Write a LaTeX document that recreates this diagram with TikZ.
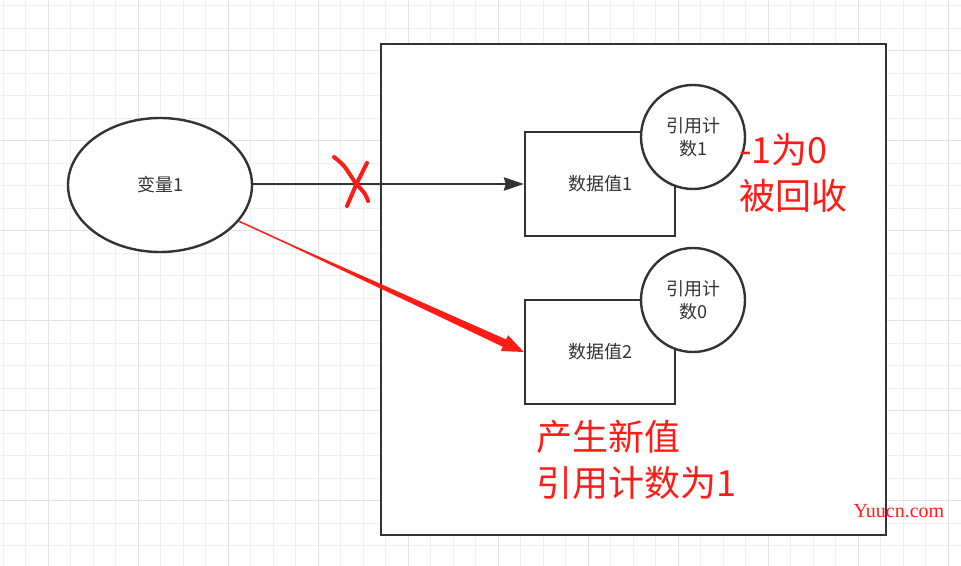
\documentclass[tikz,border=0pt]{standalone}
\usepackage{fontspec}
\setmainfont{Noto Sans CJK SC}
\newfontfamily\wmfont{Liberation Serif}
\usetikzlibrary{arrows.meta, calc, shapes.geometric}
\definecolor{linecol}{RGB}{51, 51, 51}
\definecolor{inkcol}{RGB}{255, 28, 22}
\definecolor{gridcol}{RGB}{239, 239, 239}
\definecolor{gridmaj}{RGB}{226, 226, 226}
\tikzset{
  blk/.style   = {draw=linecol, line width=1.8pt, fill=white, text=linecol,
                  align=center, inner sep=2pt,
                  font=\fontsize{13.5}{17.5}\selectfont},
  var/.style   = {blk, ellipse, minimum width=138pt, minimum height=100.5pt},
  val/.style   = {blk, rectangle, minimum width=112.5pt, minimum height=78pt},
  cnt/.style   = {blk, circle, minimum size=78pt},
  frame/.style = {draw=linecol, line width=1.8pt, fill=white,
                  minimum width=378.75pt, minimum height=368.25pt},
  link/.style  = {-{Stealth[length=15pt, width=10pt, inset=1.5pt]},
                  draw=linecol, line width=1.6pt},
  note/.style  = {text=inkcol, align=left, inner sep=0pt,
                  font=\fontsize{27}{34.5}\selectfont},
  scrawl/.style = {draw=inkcol, line width=3pt, line cap=round,
                   line join=round},
  wmark/.style = {text=inkcol, inner sep=0pt, font=\wmfont\fontsize{15}{18}\selectfont},
}

\begin{document}
\begin{tikzpicture}[x=0.75pt, y=-0.75pt]
  \useasboundingbox (0,0) rectangle (961,566);

  %% ---------------- paper grid ----------------
  \foreach \gx in {3,25.5,...,961}
    \draw[gridcol, line width=0.75pt] (\gx,0) -- (\gx,566);
  \foreach \gy in {6,28.5,...,566}
    \draw[gridcol, line width=0.75pt] (0,\gy) -- (961,\gy);
  \foreach \gx in {48,138,...,961}
    \draw[gridmaj, line width=0.75pt] (\gx,0) -- (\gx,566);
  \foreach \gy in {51,141,...,566}
    \draw[gridmaj, line width=0.75pt] (0,\gy) -- (961,\gy);

  %% ---------------- heap ----------------
  \node[frame] (heap) at (633.5,289.5) {};

  \node[val] (val1) at (600,184) {数据值1};
  \node[cnt] (cnt1) at (693,137) {引用计\\数1};
  \node[val] (val2) at (600,352) {数据值2};
  \node[cnt] (cnt2) at (693,300) {引用计\\数0};

  %% ---------------- the variable ----------------
  \node[var] (var) at (160,185) {变量1};

  %% old reference, crossed out
  \draw[link] (var.east |- val1.west) -- (val1.west);
  \draw[scrawl] plot[smooth, tension=0.5] coordinates
       {(334,157) (344,166) (355,182) (365,194) (368,201)};
  \draw[scrawl] plot[smooth, tension=0.5] coordinates
       {(367,163) (357,183) (347,206)};

  %% new reference, drawn by hand in red
  \path (var) -- (val2.west) coordinate[pos=0] (rs)
        coordinate[pos=0.18] (rm) coordinate[pos=1] (rt);
  \coordinate (rb) at ($(rt)!16pt!(rs)$);
  \fill[inkcol] ($(rs)!0.55pt!90:(rt)$) -- ($(rm)!0.6pt!90:(rt)$)
       -- ($(rb)!3pt!90:(rt)$) -- ($(rb)!6.5pt!90:(rt)$) -- (rt)
       -- ($(rb)!6.5pt!-90:(rt)$) -- ($(rb)!3pt!-90:(rt)$)
       -- ($(rm)!0.6pt!-90:(rt)$) -- ($(rs)!0.55pt!-90:(rt)$) -- cycle;

  %% ---------------- notes ----------------
  \node[note, anchor=west] (drop) at (739,173) {-1为0\\被回收};
  \node[note, anchor=west] (born) at (536,460) {产生新值\\引用计数为1};

  \node[wmark] (site) at (899,511) {Yuucn.com};

\end{tikzpicture}
\end{document}
